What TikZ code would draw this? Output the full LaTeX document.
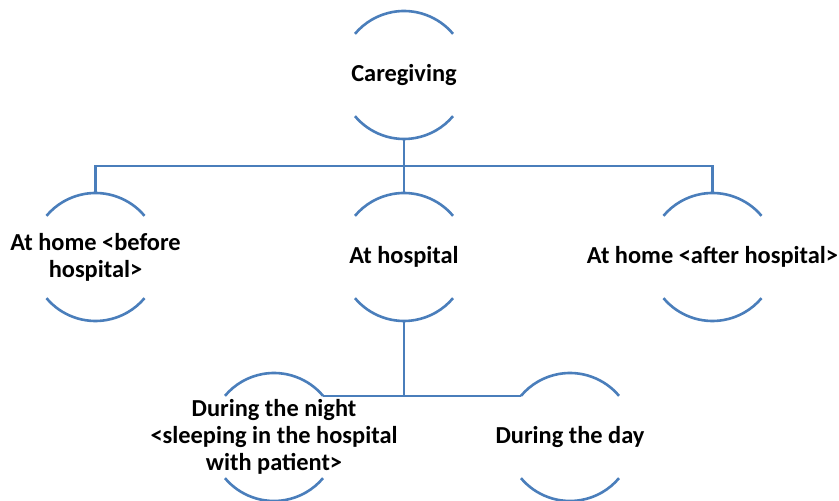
\documentclass[tikz,border=0pt]{standalone}
\usepackage{fontspec}
\setmainfont{Carlito}
\definecolor{arcblue}{RGB}{74,126,187}
\usepackage{tikz}
\usetikzlibrary{calc,trees}

\begin{document}
\begin{tikzpicture}[
          arcnode/.style={align=center,inner sep=0pt,
                          font=\bfseries\fontsize{24.4}{27}\selectfont},
          arcline/.style={draw=arcblue,line width=2.6pt},
          edge from parent/.style={draw=arcblue,line width=2.6pt},
          edge from parent path={(\tikzparentnode.center) ++(0,-64pt) -- ++(0,-27pt)
                                 -| ($(\tikzchildnode.center)+(0,64pt)$)},
          level 1/.style={sibling distance=308.5pt, level distance=182pt},
          level 2/.style={sibling distance=296pt, level distance=180pt}]
        \useasboundingbox (0,0) rectangle (839pt,501pt);
        \node[arcnode] (care) at (404pt,426pt) {Caregiving}
          child { node[arcnode] (homeA) {At home <before\\hospital>} }
          child { node[arcnode] (hosp) {At hospital}
            child[edge from parent path={(\tikzparentnode.center) ++(0,-64pt)
                                         |- ($(\tikzchildnode.center)+(40:64pt)$)}]
              { node[arcnode,xshift=18pt] (night) {During the night\\<sleeping in the hospital\\with patient>} }
            child[edge from parent path={(\tikzparentnode.center) ++(0,-64pt)
                                         |- ($(\tikzchildnode.center)+(140:64pt)$)}]
              { node[arcnode,xshift=18pt] (day) {During the day} }
          }
          child { node[arcnode] (homeB) {At home <after hospital>} };
        % the open circles round each text
        \foreach \n in {care,homeA,hosp,homeB,night,day}{
          \draw[arcline] ($(\n.center)+(40:64pt)$) arc[start angle=40,end angle=140,radius=64pt];
          \draw[arcline] ($(\n.center)+(220:64pt)$) arc[start angle=220,end angle=320,radius=64pt];
        }
        \end{tikzpicture}
\end{document}
